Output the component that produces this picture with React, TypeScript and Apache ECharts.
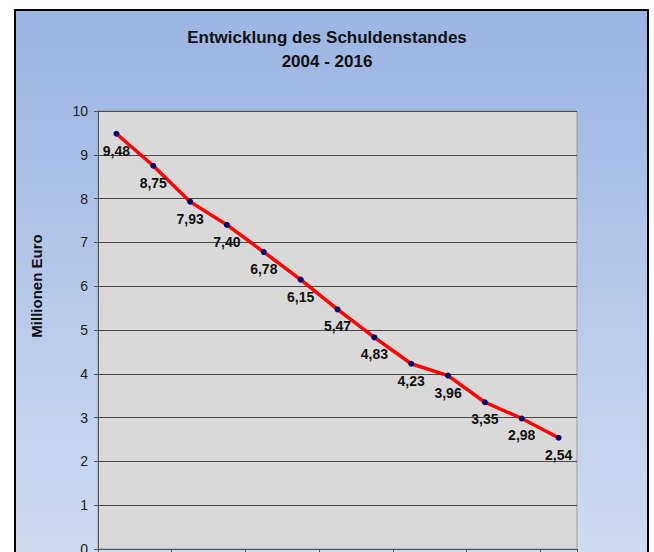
import React, { useEffect, useRef } from "react";
import * as echarts from "echarts";

const years = ["2004", "2005", "2006", "2007", "2008", "2009", "2010", "2011", "2012", "2013", "2014", "2015", "2016"];
const debt = [9.48, 8.75, 7.93, 7.4, 6.78, 6.15, 5.47, 4.83, 4.23, 3.96, 3.35, 2.98, 2.54];
const titleLines = ["Entwicklung des Schuldenstandes", "2004 - 2016"];
const yAxisName = "Millionen Euro";

const SANS = "'Liberation Sans', Arial, sans-serif";

export default function App() {
  const ref = useRef<HTMLDivElement>(null);
  useEffect(() => {
    if (!ref.current) return;
    const chart = echarts.init(ref.current, undefined, { renderer: "svg" });
    chart.setOption({
      animation: false,
      backgroundColor: "#ffffff",
      graphic: [
        {
          type: "rect",
          z: -10,
          shape: { x: 15, y: 10, width: 633, height: 640 },
          style: {
            fill: new echarts.graphic.LinearGradient(0, 0, 0, 1, [
              { offset: 0, color: "#9BB4E3" },
              { offset: 1, color: "#DAE2F3" },
            ]),
            stroke: "#000000",
            lineWidth: 2,
          },
        },
        {
          type: "text",
          x: 36,
          y: 286,
          rotation: Math.PI / 2,
          style: {
            text: yAxisName,
            fontFamily: SANS,
            fontWeight: "bold",
            fontSize: 15,
            fill: "#111111",
            align: "center",
            verticalAlign: "middle",
          },
        },
      ],
      title: {
        text: titleLines.join("\n"),
        left: "center",
        top: 25,
        padding: 0,
        textStyle: {
          fontFamily: SANS,
          fontWeight: "bold",
          fontSize: 17,
          lineHeight: 24,
          color: "#111111",
        },
      },
      grid: {
        left: 98,
        right: 77,
        top: 111,
        height: 438,
        show: true,
        backgroundColor: "#D9D9D9",
        borderColor: "#9A9A9A",
        borderWidth: 1,
      },
      xAxis: {
        type: "category",
        data: years,
        boundaryGap: true,
        axisLine: { show: true, lineStyle: { color: "#555555", width: 1 } },
        axisTick: { show: true, length: 5, lineStyle: { color: "#555555" } },
        axisLabel: { fontFamily: SANS, fontSize: 13, color: "#222222", margin: 12 },
      },
      yAxis: {
        type: "value",
        min: 0,
        max: 10,
        interval: 1,
        axisLine: { show: true, lineStyle: { color: "#555555", width: 1 } },
        axisTick: { show: true, length: 4, lineStyle: { color: "#555555" } },
        axisLabel: { fontFamily: SANS, fontSize: 14, color: "#222222", margin: 10 },
        splitLine: { show: true, lineStyle: { color: "#4A4A4A", width: 1 } },
      },
      series: [
        {
          type: "line",
          data: debt,
          symbol: "circle",
          symbolSize: 6,
          itemStyle: { color: "#000066" },
          lineStyle: { color: "#FF0000", width: 3.5 },
          label: {
            show: true,
            position: "bottom",
            distance: 7,
            fontFamily: SANS,
            fontWeight: "bold",
            fontSize: 14,
            color: "#111111",
            formatter: (p: any) => Number(p.value).toFixed(2).replace(".", ","),
          },
        },
      ],
    });
    return () => chart.dispose();
  }, []);
  return (
    <div style={{ position: "fixed", left: 0, top: 0, width: 654, height: 552, overflow: "hidden", background: "#fff" }}>
      <div ref={ref} style={{ width: 654, height: 640 }} />
    </div>
  );
}
